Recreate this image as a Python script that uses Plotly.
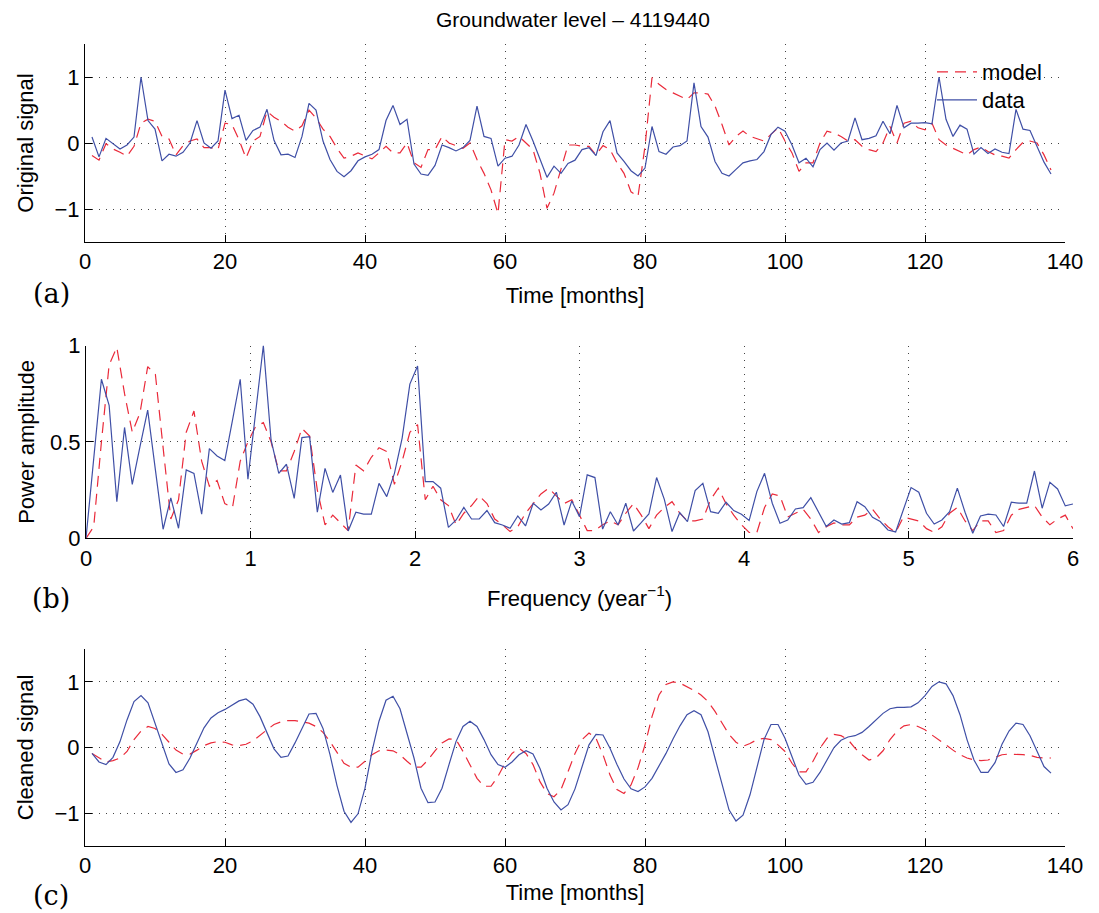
import plotly.graph_objects as go

W, H = 1099, 913
OFF = 8  # browser default body margin

months = list(range(1, 139))

orig_data = [0.09, -0.21, 0.07, -0.01, -0.09, -0.03, 0.09, 1.0, 0.34, 0.21,
             -0.27, -0.17, -0.2, -0.14, 0.0, 0.34, 0.0, -0.08, 0.03, 0.8,
             0.37, 0.42, 0.04, 0.19, 0.24, 0.51, 0.04, -0.18, -0.17, -0.22,
             0.1, 0.6, 0.5, 0.03, -0.25, -0.43, -0.51, -0.42, -0.27, -0.21,
             -0.17, -0.1, 0.34, 0.57, 0.28, 0.36, -0.32, -0.47, -0.49, -0.34,
             -0.03, -0.07, -0.12, -0.07, 0.04, 0.56, 0.1, 0.07, -0.35, -0.23,
             -0.2, -0.03, 0.28, 0.03, -0.26, -0.52, -0.35, -0.46, -0.31, -0.26,
             -0.1, -0.07, -0.19, 0.17, 0.34, -0.15, -0.28, -0.42, -0.5, -0.38,
             0.25, -0.13, -0.17, -0.06, -0.04, 0.03, 0.91, 0.25, 0.09, -0.28,
             -0.46, -0.5, -0.4, -0.3, -0.27, -0.25, -0.13, 0.13, 0.24, 0.18,
             -0.03, -0.3, -0.23, -0.36, -0.1, 0.0, -0.11, 0.0, 0.03, 0.38,
             0.05, 0.07, 0.11, 0.33, 0.14, 0.57, 0.23, 0.3, 0.3, 0.31,
             0.29, 1.0, 0.36, 0.1, 0.27, 0.21, -0.17, -0.07, -0.16, -0.09,
             -0.14, -0.16, 0.51, 0.21, 0.19, -0.05, -0.29, -0.47]

orig_model = [-0.19, -0.26, -0.01, -0.09, -0.14, -0.2, -0.05, 0.3, 0.36, 0.33,
              0.1, 0.06, -0.18, -0.04, 0.03, 0.06, -0.07, -0.07, -0.1, 0.3,
              0.28, 0.05, -0.23, 0.03, 0.1, 0.48, 0.39, 0.33, 0.24, 0.18,
              0.26, 0.5, 0.38, 0.21, 0.1, -0.08, -0.23, -0.2, -0.15, -0.2,
              -0.24, -0.15, -0.05, -0.15, -0.15, 0.0, -0.3, -0.37, -0.1, -0.1,
              0.1, 0.0, -0.04, -0.08, 0.0, -0.25, -0.46, -0.71, -1.07, 0.05,
              0.03, 0.1, 0.0, -0.1, -0.46, -0.99, -0.76, -0.41, -0.03, -0.03,
              -0.05, -0.05, -0.18, -0.04, -0.1, -0.3, -0.46, -0.74, -0.81, -0.05,
              0.99, 0.89, 0.81, 0.76, 0.71, 0.66, 0.76, 0.76, 0.74, 0.56,
              0.28, -0.03, 0.1, 0.18, 0.1, 0.06, 0.03, 0.13, 0.23, 0.03,
              -0.15, -0.43, -0.3, -0.3, 0.0, 0.18, 0.15, 0.1, 0.03, 0.05,
              -0.05, -0.1, -0.13, 0.0, 0.25, 0.0, 0.3, 0.33, 0.23, 0.2,
              0.3, 0.05, -0.03, -0.08, -0.13, -0.18, -0.1, -0.06, -0.13, -0.18,
              -0.2, -0.23, -0.1, 0.01, 0.03, 0.0, -0.18, -0.41]

freq_index = list(range(129))
freq_step = 12 / 256

power_data = [0, 0.41, 0.825, 0.69, 0.19, 0.575, 0.28, 0.475, 0.665, 0.355,
              0.047, 0.21, 0.052, 0.355, 0.337, 0.125, 0.465, 0.427, 0.403, 0.613,
              0.825, 0.306, 0.657, 1.0, 0.51, 0.337, 0.384, 0.207, 0.522, 0.527,
              0.135, 0.363, 0.238, 0.328, 0.038, 0.135, 0.125, 0.125, 0.285, 0.216,
              0.337, 0.52, 0.8, 0.894, 0.294, 0.294, 0.26, 0.057, 0.095, 0.16,
              0.1, 0.1, 0.144, 0.081, 0.069, 0.052, 0.116, 0.064, 0.182, 0.147,
              0.178, 0.239, 0.069, 0.194, 0.112, 0.329, 0.315, 0.048, 0.138, 0.069,
              0.182, 0.038, 0.081, 0.126, 0.315, 0.202, 0.035, 0.133, 0.087, 0.247,
              0.285, 0.138, 0.13, 0.187, 0.144, 0.125, 0.092, 0.242, 0.337, 0.182,
              0.078, 0.095, 0.152, 0.159, 0.211, 0.135, 0.061, 0.095, 0.074, 0.081,
              0.19, 0.164, 0.109, 0.087, 0.043, 0.033, 0.147, 0.263, 0.239, 0.13,
              0.074, 0.095, 0.138, 0.26, 0.135, 0.026, 0.116, 0.125, 0.121, 0.061,
              0.187, 0.182, 0.182, 0.349, 0.156, 0.291, 0.256, 0.168, 0.178]

power_model = [0, 0.06, 0.5, 0.9, 0.99, 0.75, 0.55, 0.65, 0.89, 0.85,
               0.47, 0.1, 0.2, 0.55, 0.66, 0.4, 0.27, 0.3, 0.18, 0.16,
               0.4, 0.5, 0.58, 0.6, 0.5, 0.35, 0.35, 0.45, 0.57, 0.53,
               0.25, 0.07, 0.12, 0.08, 0.04, 0.38, 0.35, 0.42, 0.47, 0.45,
               0.28, 0.4, 0.55, 0.59, 0.2, 0.27, 0.2, 0.17, 0.07, 0.13,
               0.17, 0.22, 0.18, 0.1, 0.07, 0.035, 0.06, 0.13, 0.18, 0.23,
               0.26, 0.22, 0.18, 0.2, 0.12, 0.04, 0.04, 0.07, 0.09, 0.07,
               0.13, 0.18, 0.12, 0.05, 0.12, 0.16, 0.19, 0.13, 0.09, 0.09,
               0.1, 0.2, 0.26, 0.18, 0.12, 0.07, 0.03, 0.03, 0.16, 0.23,
               0.22, 0.11, 0.13, 0.15, 0.1, 0.03, 0.06, 0.08, 0.07, 0.07,
               0.11, 0.12, 0.15, 0.1, 0.06, 0.03, 0.11, 0.1, 0.09, 0.05,
               0.03, 0.06, 0.13, 0.16, 0.09, 0.04, 0.09, 0.09, 0.03, 0.04,
               0.12, 0.15, 0.16, 0.17, 0.11, 0.07, 0.1, 0.12, 0.05]

clean_data = [-0.09, -0.22, -0.26, -0.15, 0.09, 0.42, 0.7, 0.79, 0.68, 0.37,
              0.04, -0.25, -0.38, -0.34, -0.16, 0.07, 0.3, 0.45, 0.53, 0.58,
              0.65, 0.71, 0.74, 0.66, 0.47, 0.23, -0.02, -0.15, -0.13, 0.07,
              0.29, 0.51, 0.52, 0.29, -0.11, -0.58, -0.97, -1.14, -1.01, -0.62,
              -0.06, 0.4, 0.72, 0.78, 0.59, 0.22, -0.16, -0.62, -0.84, -0.83,
              -0.62, -0.26, 0.09, 0.32, 0.4, 0.32, 0.12, -0.11, -0.26, -0.3,
              -0.22, -0.11, -0.05, -0.1, -0.32, -0.62, -0.83, -0.95, -0.87, -0.63,
              -0.3, 0.04, 0.2, 0.19, -0.01, -0.26, -0.48, -0.63, -0.67, -0.6,
              -0.47, -0.29, -0.09, 0.13, 0.33, 0.5, 0.56, 0.5, 0.24, -0.16,
              -0.57, -0.95, -1.12, -1.03, -0.72, -0.31, 0.12, 0.35, 0.35, 0.14,
              -0.14, -0.42, -0.56, -0.53, -0.38, -0.18, 0.0, 0.11, 0.16, 0.18,
              0.23, 0.32, 0.42, 0.52, 0.59, 0.61, 0.61, 0.62, 0.68, 0.79,
              0.93, 1.0, 0.97, 0.79, 0.5, 0.12, -0.19, -0.38, -0.38, -0.23,
              0.05, 0.25, 0.37, 0.35, 0.18, -0.06, -0.29, -0.39]

clean_model = [-0.09, -0.16, -0.22, -0.2, -0.16, -0.06, 0.12, 0.25, 0.32, 0.29,
               0.2, 0.08, -0.04, -0.1, -0.1, -0.04, 0.03, 0.07, 0.09, 0.08,
               0.04, 0.03, 0.05, 0.1, 0.19, 0.27, 0.35, 0.39, 0.41, 0.41,
               0.39, 0.37, 0.32, 0.23, 0.09, -0.07, -0.24, -0.3, -0.3, -0.21,
               -0.11, -0.05, -0.04, -0.05, -0.11, -0.21, -0.3, -0.3, -0.19, -0.05,
               0.07, 0.13, 0.12, -0.06, -0.26, -0.47, -0.59, -0.59, -0.44, -0.24,
               -0.09, -0.01, -0.09, -0.26, -0.52, -0.7, -0.75, -0.64, -0.37, -0.09,
               0.12, 0.22, 0.14, -0.11, -0.42, -0.64, -0.7, -0.57, -0.31, 0.04,
               0.47, 0.8, 0.96, 1.0, 0.98, 0.93, 0.87, 0.8, 0.7, 0.55,
               0.37, 0.2, 0.08, 0.02, 0.06, 0.12, 0.14, 0.12, 0.04, -0.06,
               -0.24, -0.37, -0.37, -0.21, -0.01, 0.14, 0.2, 0.18, 0.12, -0.01,
               -0.11, -0.19, -0.16, -0.05, 0.12, 0.25, 0.33, 0.35, 0.32, 0.27,
               0.19, 0.12, 0.04, -0.04, -0.11, -0.16, -0.19, -0.2, -0.19, -0.15,
               -0.11, -0.1, -0.1, -0.11, -0.12, -0.15, -0.16, -0.16]

title_text = "Groundwater level \u2013 4119440"
panel_labels = ["(a)", "(b)", "(c)"]

BLUE = "#3f4fa6"
RED = "#ea2a3a"
SANS = "Liberation Sans, Arial, Helvetica, sans-serif"
SERIF = "DejaVu Serif, serif"
FS = 22

freqs = [k * freq_step for k in freq_index]


def fx(px):
    return (px - OFF) / W


def fy(py):
    return 1 - (py - OFF) / H


def px_x(a, b):
    return [fx(a), fx(b)]


def px_y(top, bottom):
    return [fy(bottom), fy(top)]


fig = go.Figure()

red_line = dict(color=RED, width=1.2, dash="11px,7px")
blue_line = dict(color=BLUE, width=1.2)

fig.add_trace(go.Scatter(x=months, y=orig_model, mode="lines", name="model",
                         line=red_line, xaxis="x", yaxis="y", legend="legend"))
fig.add_trace(go.Scatter(x=months, y=orig_data, mode="lines", name="data",
                         line=blue_line, xaxis="x", yaxis="y", legend="legend2"))
fig.add_trace(go.Scatter(x=freqs, y=power_model, mode="lines", showlegend=False,
                         line=red_line, xaxis="x2", yaxis="y2"))
fig.add_trace(go.Scatter(x=freqs, y=power_data, mode="lines", showlegend=False,
                         line=blue_line, xaxis="x2", yaxis="y2"))
fig.add_trace(go.Scatter(x=months, y=clean_model, mode="lines", showlegend=False,
                         line=red_line, xaxis="x3", yaxis="y3"))
fig.add_trace(go.Scatter(x=months, y=clean_data, mode="lines", showlegend=False,
                         line=blue_line, xaxis="x3", yaxis="y3"))

common = dict(showline=True, linecolor="black", linewidth=1, mirror=False,
              ticks="inside", ticklen=7, tickcolor="black", tickwidth=1,
              showgrid=True, gridcolor="#444", gridwidth=1, griddash="1px,6px",
              zeroline=False, automargin=False,
              tickfont=dict(family=SANS, size=FS, color="black"),
              title_font=dict(family=SANS, size=FS, color="black"))

leg_common = dict(xanchor="left", yanchor="middle", bgcolor="rgba(0,0,0,0)",
                  font=dict(family=SANS, size=FS, color="black"), itemwidth=40)

fig.update_layout(
    width=W, height=H,
    margin=dict(l=0, r=0, t=0, b=0, autoexpand=False),
    paper_bgcolor="white", plot_bgcolor="white",
    showlegend=True,
    legend=dict(x=fx(932), y=fy(72), **leg_common),
    legend2=dict(x=fx(932), y=fy(100), **leg_common),
    xaxis=dict(domain=px_x(85, 1065), range=[0, 140], tickvals=[0, 20, 40, 60, 80, 100, 120, 140],
               anchor="y", title=dict(text="Time [months]", standoff=14), **common),
    yaxis=dict(domain=px_y(44, 242), range=[-1.5, 1.5], tickvals=[-1, 0, 1],
               anchor="x", title=dict(text="Original signal", standoff=14), **common),
    xaxis2=dict(domain=px_x(86, 1073), range=[0, 6], tickvals=[0, 1, 2, 3, 4, 5, 6],
                anchor="y2", title=dict(text="Frequency (year<sup>\u22121</sup>)", standoff=20), **common),
    yaxis2=dict(domain=px_y(345.5, 538.3), range=[0, 1], tickvals=[0, 0.5, 1],
                anchor="x2", title=dict(text="Power amplitude", standoff=9), **common),
    xaxis3=dict(domain=px_x(85, 1065), range=[0, 140], tickvals=[0, 20, 40, 60, 80, 100, 120, 140],
                anchor="y3", title=dict(text="Time [months]", standoff=7), **common),
    yaxis3=dict(domain=px_y(649, 846), range=[-1.5, 1.5], tickvals=[-1, 0, 1],
                anchor="x3", title=dict(text="Cleaned signal", standoff=14), **common),
)

fig.add_annotation(text=title_text, x=fx(573), y=fy(20), xref="paper", yref="paper",
                   showarrow=False, font=dict(family=SANS, size=21, color="black"),
                   xanchor="center", yanchor="middle")

for lab, ypx in zip(panel_labels, [293, 598, 895]):
    fig.add_annotation(text=lab, x=fx(51), y=fy(ypx), xref="paper", yref="paper",
                       showarrow=False, font=dict(family=SERIF, size=27, color="black"),
                       xanchor="center", yanchor="middle")

fig.write_html("out.html")
